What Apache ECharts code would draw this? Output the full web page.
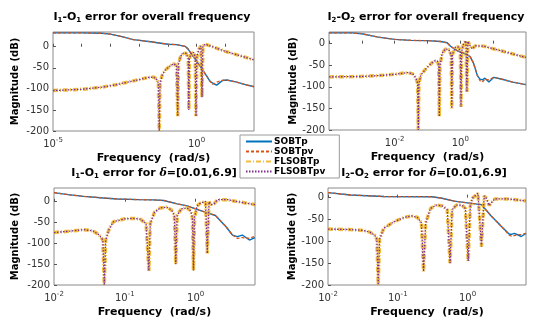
<!DOCTYPE html>
<html>
<head>
<meta charset="utf-8">
<script src="https://cdn.jsdelivr.net/npm/echarts@6/dist/echarts.min.js"></script>
<style>
  html, body { margin: 0; background: #fff; }
  #chart { width: 537px; height: 322px; }
</style>
</head>
<body>
<div id="chart"></div>
<script>
// frequencies are kept as log10(rad/s), magnitudes in dB

// I1-O1, overall frequency
const tlHiLogF = [-5, -4, -3.3, -3, -2.6, -2.2, -1.6, -1, -0.7, -0.4, -0.3, -0.17, 0, 0.24, 0.47, 0.55, 0.63, 0.7, 0.78, 0.9, 1.05, 1.4, 1.7, 2]
const tlSobtp = [33, 33, 32, 30, 24, 17, 12, 6, 5, 1, -5, -18, -34, -58, -82, -86, -89, -91, -87, -80, -79, -84, -90, -95]
const tlSobtpv = [33, 33, 32, 30, 24, 17, 12, 6, 5, 1, -5, -18, -34, -58, -82, -89, -87, -84, -82, -80, -79, -84, -90, -95]
const tlLoLogF = [-5, -4, -3.3, -2.8, -2.4, -2, -1.7, -1.5, -1.4, -1.33, -1.3, -1.27, -1.2, -1.1, -0.95, -0.8, -0.7, -0.655, -0.63, -0.55,
  -0.45, -0.36, -0.29, -0.27, -0.25, -0.18, -0.1, -0.05, -0.02, 0.01, 0.08, 0.15, 0.19, 0.22, 0.3, 0.4, 1, 2]
const tlFlsobt = [-104, -101, -96, -90, -84, -78, -73, -72, -76, -86, -200, -86, -68, -56, -47, -40, -45, -165, -40, -22,
  -14, -16, -28, -150, -28, -14, -14, -24, -165, -24, -6, 2, -120, 2, 6, 4, -11, -31]

// I2-O2, overall frequency
const trHiLogF = [-4, -3.3, -3, -2.5, -2, -1.5, -1, -0.6, -0.4, -0.3, -0.2, -0.1, 0.1, 0.3, 0.4, 0.52, 0.6, 0.67, 0.75, 0.87, 1.02, 1.3, 1.6, 2]
const trSobtp = [25, 25, 23, 15, 10, 7.5, 7, 5, 2, -6, -11, -16, -22, -30, -45, -74, -82, -84, -80, -89, -78, -83, -89, -95]
const trSobtpv = [25, 25, 23, 15, 10, 7.5, 7, 5, 2, -6, -11, -16, -22, -30, -45, -74, -86, -89, -82, -84, -78, -83, -89, -95]
const trLoLogF = [-4, -3, -2.5, -2, -1.6, -1.45, -1.35, -1.3, -1.28, -1.26, -1.2, -1, -0.8, -0.7, -0.66, -0.64, -0.62, -0.55, -0.45, -0.35,
  -0.28, -0.26, -0.24, -0.15, -0.05, 0, 0.02, 0.04, 0.1, 0.17, 0.2, 0.23, 0.3, 0.36, 0.46, 0.72, 2]
const trFlsobt = [-77, -76, -74, -71, -67, -70, -80, -92, -200, -92, -72, -54, -40, -40, -50, -169, -50, -22, -12, -14,
  -25, -150, -25, -8, -8, -18, -146, -18, 0, 7, -112, 5, -5, -12, -5, -6, -32]

// I1-O1, delta = [0.01, 6.9]
const blHiLogF = [-2, -1.8, -1.58, -1.3, -1.1, -0.8, -0.6, -0.45, -0.26, -0.12, 0.05, 0.28, 0.43, 0.52, 0.59, 0.66, 0.76, 0.839]
const blSobtp = [22, 17, 13, 9, 6.5, 5, 4.5, 3, -5, -10, -20, -33, -60, -80, -84, -80, -92, -86]
const blSobtpv = [22, 17, 13, 9, 6.5, 5, 4.5, 3, -5, -10, -20, -33, -60, -80, -88, -86, -88, -83]
const blLoLogF = [-2, -1.8, -1.58, -1.45, -1.36, -1.31, -1.29, -1.27, -1.22, -1.16, -1, -0.88, -0.78, -0.7, -0.66, -0.64, -0.58, -0.5, -0.41, -0.34,
  -0.3, -0.28, -0.26, -0.2, -0.12, -0.07, -0.045, -0.03, -0.015, 0.02, 0.07, 0.14, 0.165, 0.19, 0.22, 0.26, 0.31, 0.45, 0.52, 0.839]
const blFlsobt = [-74, -71, -67, -70, -80, -92, -200, -92, -65, -48, -41, -40, -42, -52, -166, -52, -25, -15, -13, -20,
  -32, -150, -32, -17, -15, -22, -38, -165, -38, -10, -3, 1, -124, 0, -7, -5, 5, 5, 2.5, -7]

// I2-O2, delta = [0.01, 6.9]
const brHiLogF = [-2, -1.68, -1.2, -0.52, -0.38, -0.19, 0, 0.2, 0.34, 0.48, 0.6, 0.63, 0.67, 0.72, 0.77, 0.839]
const brSobtp = [11.5, 6, 2.5, 2, -1, -8, -12, -16, -42, -65, -84, -84, -82, -85, -89, -82]
const brSobtpv = [11.5, 6, 2.5, 2, -1, -8, -12, -16, -42, -65, -86, -88, -87, -85, -84, -82]
const brLoLogF = [-2, -1.7, -1.5, -1.4, -1.33, -1.3, -1.28, -1.26, -1.2, -1.05, -0.9, -0.8, -0.72, -0.66, -0.63, -0.6, -0.53, -0.45, -0.36, -0.29,
  -0.25, -0.22, -0.16, -0.08, -0.03, 0.01, 0.04, 0.07, 0.15, 0.2, 0.24, 0.27, 0.31, 0.39, 0.58, 0.839]
const brFlsobt = [-72, -73, -75, -79, -86, -95, -200, -95, -70, -55, -45, -42, -45, -58, -169, -58, -25, -17, -19, -28,
  -150, -28, -17, -17, -25, -145, -20, -1.5, 10, -112, 4, -1.5, -18, -3, -3, -7.5]

const seriesNames = ['SOBTp', 'SOBTpv', 'FLSOBTp', 'FLSOBTpv']
const yTicks = [-200, -150, -100, -50, 0]

const FONT = 'DejaVu Sans'

function pts(logF, vals) {
  return logF.map((e, i) => [Math.pow(10, e), vals[i]])
}

const panels = [
  { grid: { left: 53, top: 32, width: 201, height: 99 }, xMin: 1e-5, xMax: 100, step: 5, yMax: 35, nameGapY: 33,
    hiF: tlHiLogF, blue: tlSobtp, orange: tlSobtpv, loF: tlLoLogF, low: tlFlsobt },
  { grid: { left: 329, top: 32, width: 197, height: 98 }, xMin: 1e-4, xMax: 100, step: 2, yMax: 27, nameGapY: 29,
    hiF: trHiLogF, blue: trSobtp, orange: trSobtpv, loF: trLoLogF, low: trFlsobt },
  { grid: { left: 54, top: 188, width: 201, height: 97 }, xMin: 0.01, xMax: 6.9, step: 1, yMax: 33, nameGapY: 34,
    hiF: blHiLogF, blue: blSobtp, orange: blSobtpv, loF: blLoLogF, low: blFlsobt },
  { grid: { left: 328, top: 188, width: 198, height: 97 }, xMin: 0.01, xMax: 6.9, step: 1, yMax: 22, nameGapY: 28,
    hiF: brHiLogF, blue: brSobtp, orange: brSobtpv, loF: brLoLogF, low: brFlsobt },
]

const titleRich = {
  n: { fontFamily: FONT, fontWeight: 'bold', fontSize: 11, color: '#000' },
  s: { fontFamily: FONT, fontWeight: 'bold', fontSize: 7, color: '#000', padding: [7, 0, 0, 0] },
  d: { fontFamily: 'DejaVu Serif', fontStyle: 'italic', fontSize: 11, color: '#000' },
}

function titleOf(ch, rest, x, y) {
  return {
    text: '{n|I}{s|' + ch + '}{n|-O}{s|' + ch + '}' + rest,
    left: x, top: y, textAlign: 'center', padding: 0,
    textStyle: { rich: titleRich },
  }
}

const chart = echarts.init(document.getElementById('chart'), null, { renderer: 'canvas' })

const option = {
  animation: false,
  backgroundColor: '#fff',
  title: [
    titleOf(1, '{n| error for overall frequency}', 152, 10),
    titleOf(2, '{n| error for overall frequency}', 426, 10),
    titleOf(1, '{n| error for }{d|δ}{n|=[0.01,6.9]}', 154, 166),
    titleOf(2, '{n| error for }{d|δ}{n|=[0.01,6.9]}', 424, 166),
  ],
  legend: {
    data: seriesNames,
    orient: 'vertical',
    left: 240, top: 135,
    itemWidth: 26, itemHeight: 8, itemGap: 1,
    padding: [2, 14, 2, 5],
    backgroundColor: '#fff',
    borderColor: '#9a9a9a', borderWidth: 1,
    itemStyle: { opacity: 0 },
    textStyle: { fontFamily: FONT, fontWeight: 'bold', fontSize: 9, color: '#000', padding: [0, 0, 0, -3] },
    z: 10,
  },
  grid: panels.map(p => Object.assign({ show: true, borderColor: '#8a8a8a', borderWidth: 1, backgroundColor: '#fff' }, p.grid)),
  xAxis: panels.map((p, i) => ({
    type: 'log', logBase: 10, gridIndex: i,
    min: p.xMin, max: p.xMax,
    name: 'Frequency  (rad/s)', nameLocation: 'middle', nameGap: 22,
    nameTextStyle: { fontFamily: FONT, fontWeight: 'bold', fontSize: 11, color: '#000' },
    axisLine: { show: false },
    axisTick: { inside: true, length: 3, lineStyle: { color: '#555' } },
    splitLine: { show: false },
    axisLabel: {
      margin: 6,
      showMaxLabel: false,
      formatter: v => {
        const e = Math.log10(v)
        const r = Math.round(e)
        if (Math.abs(e - r) > 1e-6 || r % p.step !== 0) return ''
        return '{b|10}{s|' + r + '}'
      },
      rich: {
        b: { fontFamily: FONT, fontSize: 10, color: '#333' },
        s: { fontFamily: FONT, fontSize: 7, color: '#333', padding: [0, 0, 7, 0] },
      },
    },
  })),
  yAxis: panels.map((p, i) => ({
    type: 'value', gridIndex: i,
    min: -200, max: p.yMax, interval: 50,
    name: 'Magnitude (dB)', nameLocation: 'middle', nameGap: p.nameGapY,
    nameTextStyle: { fontFamily: FONT, fontWeight: 'bold', fontSize: 10, color: '#000' },
    axisLine: { show: false },
    axisTick: { inside: true, length: 3, lineStyle: { color: '#555' } },
    splitLine: { show: false },
    axisLabel: {
      margin: 4, showMaxLabel: false,
      fontFamily: FONT, fontSize: 10, color: '#333',
      formatter: v => (yTicks.includes(v) ? String(v) : ''),
    },
  })),
  series: [],
}

panels.forEach((p, i) => {
  const common = { type: 'line', xAxisIndex: i, yAxisIndex: i, symbol: 'none', silent: true, clip: true }
  option.series.push(
    Object.assign({}, common, { name: 'SOBTp', data: pts(p.hiF, p.blue), color: '#0072BD',
      lineStyle: { color: '#0072BD', width: 1.4 } }),
    Object.assign({}, common, { name: 'SOBTpv', data: pts(p.hiF, p.orange), color: '#D95319',
      lineStyle: { color: '#D95319', width: 1.3, type: [3, 2] } }),
    Object.assign({}, common, { name: 'FLSOBTp', data: pts(p.loF, p.low), color: '#EDB120',
      lineStyle: { color: '#EDB120', width: 3.5, type: [5, 2, 1, 2], opacity: 0.85 } }),
    Object.assign({}, common, { name: 'FLSOBTpv', data: pts(p.loF, p.low), color: '#7E2F8E',
      lineStyle: { color: '#7E2F8E', width: 1.3, type: [1.5, 1.5] } }),
  )
})

chart.setOption(option)
</script>
</body>
</html>
